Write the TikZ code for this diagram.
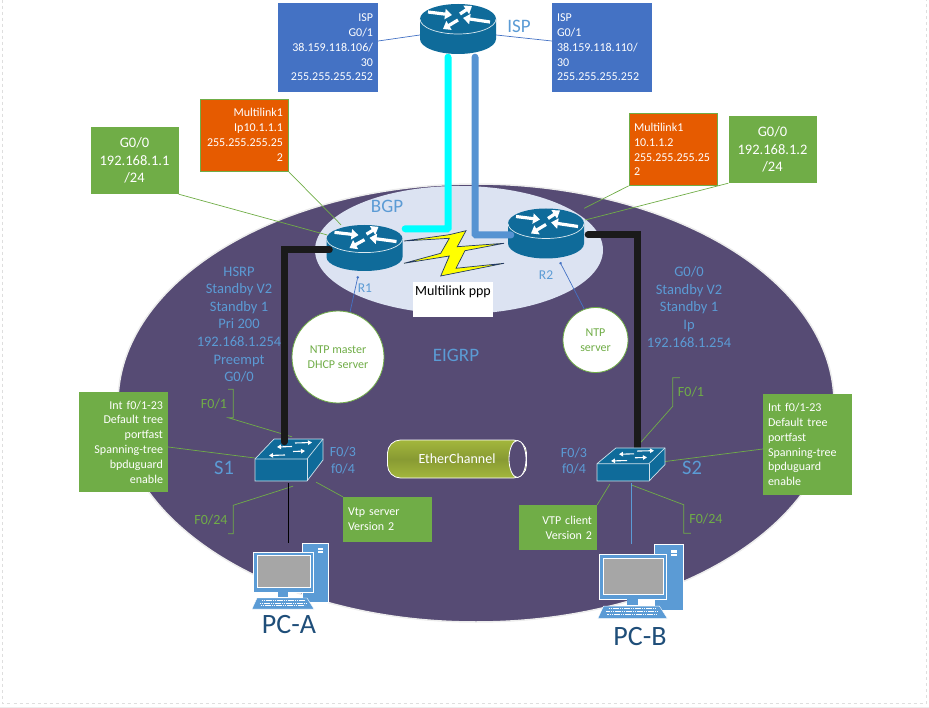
\documentclass[tikz,border=0pt]{standalone}
\usepackage{fontspec}
\setmainfont{Carlito}
\usepackage{xcolor}
\usetikzlibrary{arrows.meta,positioning,shapes.geometric}
\definecolor{netgreen}{HTML}{70AD47}
\definecolor{netorange}{HTML}{E65B00}
\definecolor{netblue}{HTML}{4472C4}
\definecolor{skyblue}{HTML}{5B9BD5}
\definecolor{areapurple}{HTML}{564B74}
\definecolor{bgparea}{HTML}{DCE3F2}
\definecolor{iconblue}{HTML}{0F6B9A}
\definecolor{pcname}{HTML}{1F4E79}
\definecolor{trunkblack}{HTML}{1A1A1A}
\definecolor{etherdark}{HTML}{889A33}
\definecolor{etherlight}{HTML}{A3B73C}
\definecolor{ispcyan}{HTML}{00FFFF}
\definecolor{boltyellow}{HTML}{FFFF00}
\tikzset{
    routericon/.pic={
        \fill[iconblue] (-38, -10) -- (-38, 10) arc[start angle=180, end angle=360, x radius=38pt, y radius=15pt] -- (38, -10) -- cycle;
        \fill[iconblue] (0, -10) ellipse [x radius=38pt, y radius=15pt];
        \draw[white!85!iconblue, line width=0.7pt] (-38, -10) arc[start angle=180, end angle=360, x radius=38pt, y radius=15pt];
        \draw[iconarrow] (-30, -17) to (-6, -14);
        \draw[iconarrow] (32, -7) to (5, -11);
        \draw[iconarrow] (2, -15) to (14, -23);
        \draw[iconarrow] (0, -9) to (-15, 0);
    },
    switchicon/.pic={
        \fill[iconblue, draw=white!80!iconblue, line width=0.7pt] (-34, -1) -- (-15, -21) -- (34, -21) -- (34, 0) -- (18, 21) -- (-34, 21) -- cycle;
        \draw[white!80!iconblue, line width=0.7pt] (-34, -1) -- (18, -1) -- (34, -21);
        \draw[white!80!iconblue, line width=0.7pt] (18, -1) -- (18, 21);
        \draw[switcharrow] (6, -17) to (23, -17.5);
        \draw[switcharrow] (4, -8.5) to (16, -9);
        \draw[switcharrow] (3, -13.5) to (-12, -13);
        \draw[switcharrow] (-4, -5) to (-20, -4.5);
    },
    pcicon/.pic={
        \fill[skyblue, draw=white, line width=0.6pt] (11.5, -33) rectangle (37.5, 26);
        \fill[white] (27, -28) rectangle (32, -23);
        \draw[skyblue, line width=0.6pt] (27, -25.5) -- (32, -25.5);
        \fill[skyblue, draw=white, line width=0.6pt] (-37.5, -24) rectangle (22.5, 16);
        \fill[gray!70, draw=white, line width=0.6pt] (-33.5, -21) rectangle (19.5, 11);
        \fill[skyblue] (-12.5, 16) rectangle (-2.5, 21);
        \fill[skyblue, draw=white, line width=0.4pt] (-33.5, 22) -- (16.5, 22) -- (23.5, 33) -- (-38.5, 33) -- cycle;
        \draw[white, line width=0.9pt, dash pattern=on 1.6pt off 0.6pt] (-29, 24.5) -- (14, 24.5);
        \draw[white, line width=0.9pt, dash pattern=on 1.6pt off 0.6pt] (-31, 27) -- (16, 27);
        \draw[white, line width=0.9pt, dash pattern=on 1.6pt off 0.6pt] (-30, 29.5) -- (14, 29.5);
    }
}

\begin{document}
\begin{tikzpicture}[x=1pt, y=-1pt,
    every node/.style={
        rectangle,
        inner sep=0pt
    },
    iconarrow/.style={white, line width=3.2pt, -{Triangle[length=7pt, width=10pt]}},
    switcharrow/.style={white, line width=1.1pt, -{Triangle[length=4pt, width=4.5pt]}},
    boxtext/.style={text=white, inner xsep=5pt, font=\fontsize{12}{14.8}\selectfont},
    ipbox/.style={boxtext, fill=netblue, text width=90pt, minimum height=89pt},
    multilinkbox/.style={boxtext, fill=netorange, draw=netgreen, line width=0.8pt, text width=78pt, minimum height=72pt},
    gatewaybox/.style={text=white, fill=netgreen, text width=88pt, minimum height=67pt, align=center, font=\fontsize{14.5}{17.5}\selectfont},
    switchbox/.style={boxtext, fill=netgreen, text width=79pt, minimum height=100pt},
    vtpbox/.style={boxtext, fill=netgreen, minimum height=45pt},
    bluetext/.style={text=skyblue, align=center, font=\fontsize{14.5}{17.6}\selectfont},
    portbrace/.style={text=netgreen, minimum height=28pt, font=\fontsize{14}{17}\selectfont},
    ntpcircle/.style={circle, draw=netgreen, fill=white, line width=0.8pt, text=netgreen, align=center, font=\fontsize{12}{14.5}\selectfont},
    calloutline/.style={netgreen, line width=0.7pt},
    isplink/.style={netblue, line width=0.7pt},
    ntplink/.style={netblue, line width=0.7pt, {Circle[length=2.5pt]}-},
    trunklink/.style={trunkblack, line width=7pt, line cap=round},
    uplink/.style={line width=7pt, line cap=round, rounded corners=1pt}
]
    \useasboundingbox (0, 0) rectangle (929, 708);
    \fill[black!7] (0, 706.5) rectangle (929, 708);
    \draw[black!13, line width=0.8pt, dashed] (2.5, 0) -- (2.5, 703) -- (926, 703) -- (926, 0);

    \node (eigrp_area) [ellipse, fill=areapurple, draw=black!7, line width=1.5pt, minimum width=716pt, minimum height=438pt, shift={(476, 403)}] {};
    \node (bgp_area) [ellipse, fill=bgparea, minimum width=288pt, minimum height=128pt, shift={(459, 250)}] {};

    \node (isp) [minimum width=76pt, minimum height=50pt, shift={(458, 29)}] {};
    \node (r1) [minimum width=76pt, minimum height=46pt, shift={(364.5, 248)}] {};
    \node (r2) [minimum width=76pt, minimum height=50pt, shift={(546, 233.5)}] {};
    \node (s1) [minimum width=68pt, minimum height=42pt, shift={(289, 460)}] {};
    \node (s2) [minimum width=68pt, minimum height=33pt, shift={(631, 464.5)}] {};
    \node (pc_a) [minimum width=76pt, minimum height=66pt, shift={(290.5, 576)}] {};
    \node (pc_b) [minimum width=85pt, minimum height=74pt, shift={(641, 581.5)}] {};

    \node (isp_left) [ipbox, align=right, shift={(328, 47.5)}]
    {
        ISP\\
        G0/1\\
        38.159.118.106/\\
        30\\
        255.255.255.252
    };
    \node (isp_right) [ipbox, align=left, shift={(602, 47.5)}]
    {
        ISP\\
        G0/1\\
        38.159.118.110/\\
        30\\
        255.255.255.252
    };
    \node (multilink_left) [multilinkbox, align=right, shift={(244, 135)}]
    {
        Multilink1\\
        Ip10.1.1.1\\
        255.255.255.25\\
        2
    };
    \node (multilink_right) [multilinkbox, align=left, shift={(673, 149.5)}]
    {
        Multilink1\\
        10.1.1.2\\
        255.255.255.25\\
        2
    };
    \node (gateway_left) [gatewaybox, shift={(134.5, 160.5)}]
    {
        G0/0\\
        192.168.1.1\\
        /24
    };
    \node (gateway_right) [gatewaybox, shift={(772.5, 149.5)}]
    {
        G0/0\\
        192.168.1.2\\
        /24
    };
    \node (s1_box) [switchbox, align=right, shift={(123.5, 442)}]
    {
        Int f0/1-23\\
        Default tree\\
        portfast\\
        Spanning-tree\\
        bpduguard\\
        enable
    };
    \node (s2_box) [switchbox, align=left, shift={(807.5, 444.5)}]
    {
        Int f0/1-23\\
        Default tree\\
        portfast\\
        Spanning-tree\\
        bpduguard\\
        enable
    };
    \node (vtp_server) [vtpbox, text width=79pt, align=left, shift={(387.5, 519.5)}]
    {
        Vtp server\\
        Version 2
    };
    \node (vtp_client) [vtpbox, text width=68pt, align=right, shift={(558, 527.5)}]
    {
        VTP client\\
        Version 2
    };

    \node (hsrp_text) [bluetext, shift={(239, 324.5)}]
    {
        HSRP\\
        Standby V2\\
        Standby 1\\
        Pri 200\\
        192.168.1.254\\
        Preempt\\
        G0/0
    };
    \node (standby_text) [bluetext, shift={(689, 307)}]
    {
        G0/0\\
        Standby V2\\
        Standby 1\\
        Ip\\
        192.168.1.254
    };
    \node (isp_name) [text=skyblue, font=\fontsize{19}{19}\selectfont, shift={(519, 26)}] {ISP};
    \node (bgp_name) [text=skyblue, font=\fontsize{19}{19}\selectfont, shift={(387, 206)}] {BGP};
    \node (eigrp_name) [text=skyblue, font=\fontsize{19}{19}\selectfont, shift={(456, 355)}] {EIGRP};
    \node (r1_name) [text=skyblue, font=\fontsize{13.5}{14}\selectfont, shift={(365, 288)}] {R1};
    \node (r2_name) [text=skyblue, font=\fontsize{13.5}{14}\selectfont, shift={(546, 275)}] {R2};
    \node (s1_name) [text=skyblue, font=\fontsize{20.5}{21}\selectfont, shift={(224, 468)}] {S1};
    \node (s2_name) [text=skyblue, font=\fontsize{20.5}{21}\selectfont, shift={(692, 468)}] {S2};
    \node (s1_ports) [bluetext, font=\fontsize{14}{16.5}\selectfont, shift={(343, 460.5)}]
    {
        F0/3\\
        f0/4
    };
    \node (s2_ports) [bluetext, font=\fontsize{14}{16.5}\selectfont, shift={(574, 461)}]
    {
        F0/3\\
        f0/4
    };
    \node (pc_a_name) [text=pcname, font=\fontsize{28}{28}\selectfont, shift={(289, 625)}] {PC-A};
    \node (pc_b_name) [text=pcname, font=\fontsize{28}{28}\selectfont, shift={(640, 637)}] {PC-B};

    \node (f01_left) [portbrace, minimum width=38pt, shift={(214, 403.5)}] {F0/1};
    \node (f024_left) [portbrace, minimum width=44pt, shift={(211, 519.5)}] {F0/24};
    \node (f01_right) [portbrace, minimum width=36pt, shift={(691, 392)}] {F0/1};
    \node (f024_right) [portbrace, minimum width=44pt, shift={(706, 519)}] {F0/24};

    \node (ntp_master) [ntpcircle, minimum size=92pt, shift={(338, 357)}]
    {
        NTP master\\
        DHCP server
    };
    \node (ntp_server) [ntpcircle, minimum size=65pt, shift={(595.5, 340)}]
    {
        NTP\\
        server
    };
    \node (multilink_ppp) [fill=white, text=black, minimum width=80pt, minimum height=35pt, align=center, font=\fontsize{14}{18}\selectfont, shift={(453, 299.5)}]
    {
        Multilink ppp\\
        \mbox{}
    };
    \node (etherchannel) [draw=white, line width=0.8pt, rounded corners=13pt, shade, top color=etherlight, bottom color=etherlight, middle color=etherdark, text=white, minimum width=139pt, minimum height=38pt, font=\fontsize{14}{17}\selectfont, shift={(457, 459)}]
    {
        EtherChannel
    };
    \node (ether_end) [ellipse, draw=white, line width=0.8pt, fill=areapurple, minimum width=17pt, minimum height=37pt, shift={(517.5, 459)}] {};

    \draw[calloutline] (gateway_left.south east) to ([shift={(1, -13)}]r1.west);
    \draw[calloutline] (multilink_left.south east) to ([shift={(-23.5, 0)}]r1.north);
    \draw[calloutline] (multilink_right.south west) to (r2.north east);
    \draw[calloutline] (gateway_right.south west) to ([shift={(1, -13.5)}]r2.east);
    \draw[isplink] ([shift={(0, -6.5)}]isp_left.east) to ([shift={(0, 6)}]isp.west);
    \draw[isplink] ([shift={(0, 6)}]isp.east) to ([shift={(0, -6.5)}]isp_right.west);
    \draw[ntplink] ([shift={(-6.5, 5)}]r1.south) to (ntp_master.75);
    \draw[ntplink] ([shift={(14, 3.5)}]r2.south) to (ntp_server.110);
    \draw[calloutline] ([shift={(0, 5)}]s1_box.east) to ([shift={(0, -2)}]s1.west);
    \draw[calloutline] ([shift={(0, 4.5)}]s2_box.west) to ([shift={(0, -3)}]s2.east);
    \draw[calloutline] (vtp_server.north west) to ([shift={(-7, 1)}]s1.south east);
    \draw[calloutline] (vtp_client.north east) to ([shift={(13, 3)}]s2.south west);
    \draw[calloutline] ([shift={(-5, 0)}]f01_left.north east) -- (f01_left.north east) -- (f01_left.south east) -- ([shift={(-5, 0)}]f01_left.south east) -- ([shift={(3, -2)}]s1.north);
    \draw[calloutline] ([shift={(-5, 0)}]f024_left.south east) -- (f024_left.south east) -- (f024_left.north east) -- ([shift={(4, 5)}]s1.south);
    \draw[calloutline] ([shift={(7, 0)}]f01_right.north west) -- (f01_right.north west) -- (f01_right.south west) -- ([shift={(5, 0)}]s2.north);
    \draw[calloutline] ([shift={(7, 0)}]f024_right.south west) -- (f024_right.south west) -- (f024_right.north west) -- ([shift={(1, 4)}]s2.south);
    \draw[black, line width=0.8pt] ([shift={(-1, 2)}]s1.south) to ([shift={(-1, 0)}]s1.south |- pc_a.north);
    \draw[skyblue, line width=0.8pt] ([shift={(0, 2)}]s2.south) to (s2.south |- pc_b.north);

    \draw[trunklink] ([shift={(4, 1.5)}]r2.east) -| ([shift={(6, 2)}]s2.north);

    \pic at (isp) {routericon};
    \pic [yscale=0.92] at (r1) {routericon};
    \pic at (r2) {routericon};
    \pic at (s1) {switchicon};
    \pic [yscale=0.79] at (s2) {switchicon};
    \pic at (pc_a) {pcicon};
    \pic [scale=1.12] at (pc_b) {pcicon};

    \draw[uplink, ispcyan] ([shift={(-10, 3)}]isp.south) |- ([shift={(2.5, 4)}]r1.north east);
    \draw[uplink, skyblue!80!netblue] ([shift={(17, 3)}]isp.south) |- ([shift={(3, 1.5)}]r2.west);
    \draw[trunklink] ([shift={(3, 2)}]r1.west) -| ([shift={(-5, 3)}]s1.north);

    \fill[boltyellow, draw=netblue!50!black, line width=0.7pt] (404, 241) -- (449.3, 234.7) -- (466, 230.7) -- (457.3, 246.7) -- (504, 243.3) -- (465, 250.7) -- (456, 268.3) -- (504, 263.3) -- (440.7, 276) -- (449.3, 256) -- (404, 263.3) -- (440.7, 253.3) -- (449.3, 238.3) -- cycle;
\end{tikzpicture}
\end{document}
